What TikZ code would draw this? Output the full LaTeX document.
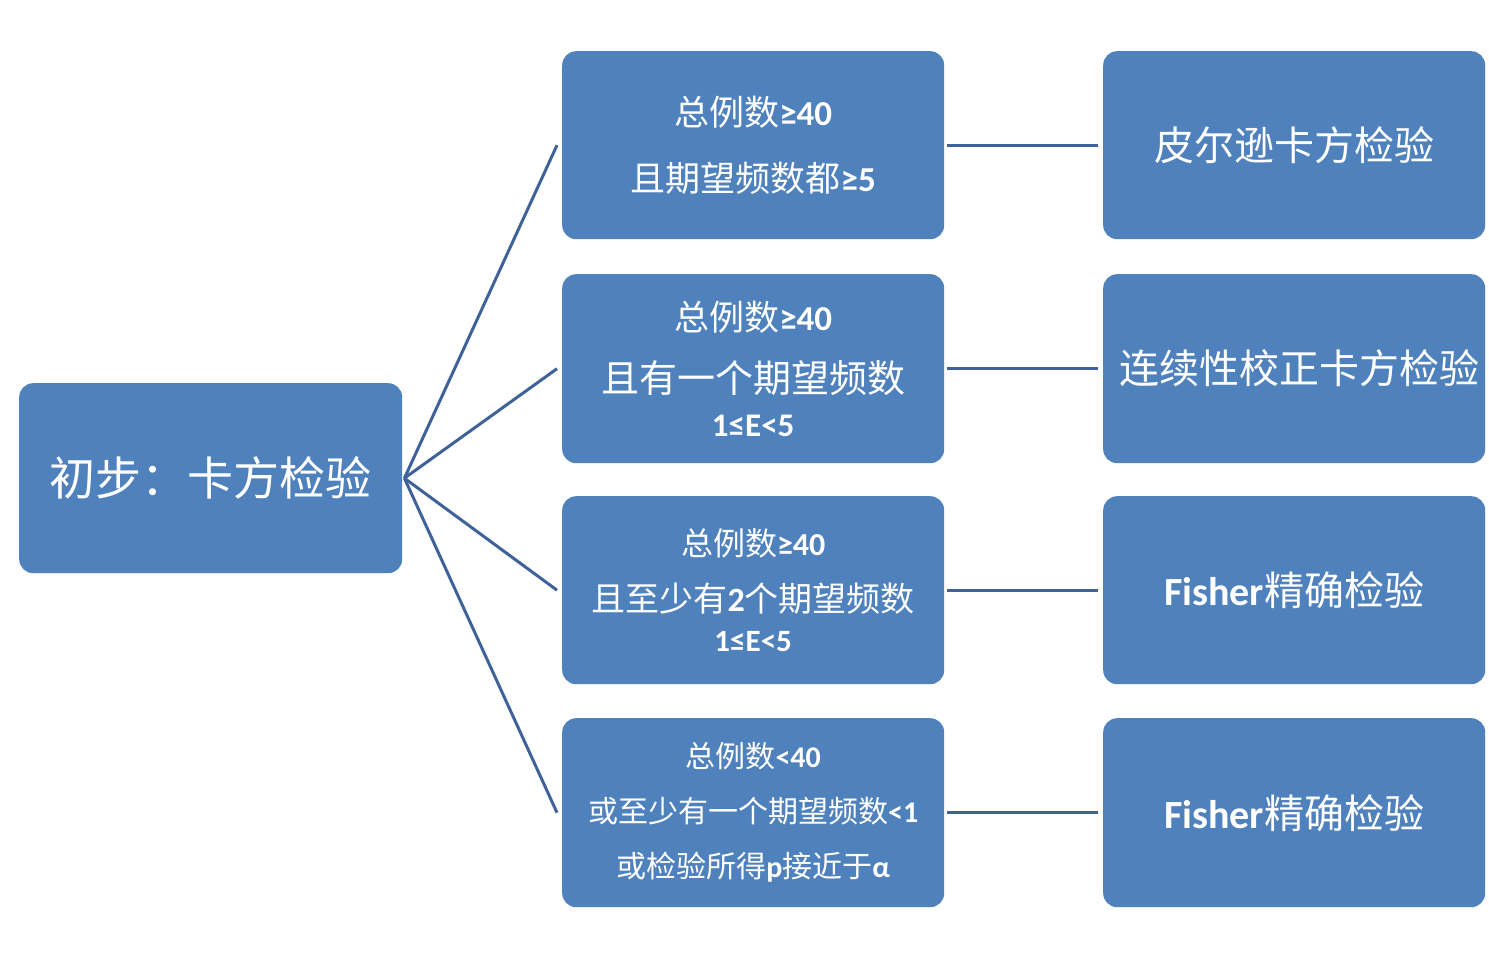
\documentclass[tikz,border=0pt]{standalone}
\usepackage{fontspec}
\setmainfont{Noto Sans CJK SC}
\newfontfamily\latf{Carlito}[BoldFont={Carlito Bold}]
\newcommand\lat[1]{{\latf\bfseries #1}}
\begin{document}
\begin{tikzpicture}[x=1pt,y=-1pt,
 box/.style={draw=none,fill=boxblue,rounded corners=14pt,text=white,align=center,inner sep=0pt,anchor=north west},
 conn/.style={draw=lineblue,line width=3pt}]
\definecolor{boxblue}{HTML}{4F81BD}
\definecolor{lineblue}{HTML}{3F6398}
\useasboundingbox (0,0) rectangle (1489,957);
\node[box,minimum width=383pt,minimum height=190pt,font=\fontsize{46}{52}\selectfont] (a) at (19,383) {初步：卡方检验};
\node[box,minimum width=382pt,minimum height=188pt,font=\fontsize{35}{66}\selectfont] (b1) at (562,51) {总例数\lat{≥40}\\且期望频数都\lat{≥5}};
\node[box,minimum width=382pt,minimum height=189pt,font=\fontsize{38}{56}\selectfont] (b2) at (562,274) {{\fontsize{35}{40}\selectfont 总例数\lat{≥40}}\\[6pt]且有一个期望频数\\[-12pt]{\fontsize{33}{36}\selectfont\lat{1≤E<5}}};
\node[box,minimum width=382pt,minimum height=188pt,font=\fontsize{34}{52}\selectfont] (b3) at (562,496) {{\fontsize{32}{38}\selectfont 总例数\lat{≥40}}\\[4pt]且至少有\lat{2}个期望频数\\[-12pt]{\fontsize{31}{34}\selectfont\lat{1≤E<5}}};
\node[box,minimum width=382pt,minimum height=189pt,font=\fontsize{30}{55}\selectfont] (b4) at (562,718) {总例数\lat{<40}\\或至少有一个期望频数\lat{<1}\\或检验所得\lat{p}接近于\lat{α}};
\node[box,minimum width=382pt,minimum height=188pt,font=\fontsize{40}{46}\selectfont] (c1) at (1103,51) {皮尔逊卡方检验};
\node[box,minimum width=382pt,minimum height=189pt,font=\fontsize{40}{46}\selectfont,text width=350pt] (c2) at (1103,274) {连续性校正卡方检验};
\node[box,minimum width=382pt,minimum height=188pt,font=\fontsize{40}{46}\selectfont] (c3) at (1103,496) {\lat{Fisher}精确检验};
\node[box,minimum width=382pt,minimum height=189pt,font=\fontsize{40}{46}\selectfont] (c4) at (1103,718) {\lat{Fisher}精确检验};
\coordinate (o) at ([xshift=2pt]a.east);
\foreach \i in {1,...,4}{
 \draw[conn] (o) -- ([xshift=-5pt]b\i.west);
 \draw[conn] ([xshift=3pt]b\i.east) -- ([xshift=-5pt]c\i.west);
}
\end{tikzpicture}
\end{document}
